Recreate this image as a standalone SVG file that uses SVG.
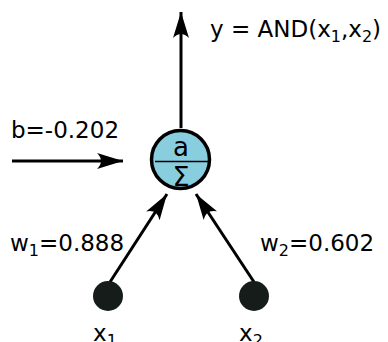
<svg xmlns="http://www.w3.org/2000/svg" width="388" height="342" viewBox="0 0 388 342">
  <style>
    .lbl { font-family: "DejaVu Sans", sans-serif; font-size: 23px; fill: #000; }
    .sub { font-size: 16px; }
    .edge { stroke: #000; stroke-width: 3; fill: none; marker-end: url(#head); }
    .input { fill: #151c1a; }
    .neuron { fill: #89cedf; stroke: #000; stroke-width: 3.5; }
  </style>
  <defs>
    <marker id="head" markerUnits="userSpaceOnUse" markerWidth="32" markerHeight="22" viewBox="-28 -11 30 22" refX="0" refY="0" orient="auto">
      <path d="M0,0 L-26,-8 Q-18,0 -26,8 Z" fill="#000"/>
    </marker>
  </defs>

  <!-- connectors -->
  <g id="connectors">
    <line class="edge" x1="181" y1="128" x2="181" y2="12"/>
    <line class="edge" x1="12" y1="161" x2="123" y2="161"/>
    <line class="edge" x1="110" y1="282" x2="167" y2="194"/>
    <line class="edge" x1="254" y1="282" x2="196" y2="194"/>
  </g>

  <!-- summing neuron -->
  <g id="neuron">
    <circle class="neuron" cx="180.5" cy="159.5" r="29"/>
    <line x1="155" y1="161.5" x2="208" y2="161.5" stroke="#000" stroke-width="1.5"/>
    <text class="lbl" x="181" y="156" text-anchor="middle" style="font-size:26px">a</text>
    <text class="lbl" x="181" y="186" text-anchor="middle" style="font-size:27px">Σ</text>
  </g>

  <!-- inputs -->
  <g id="input-x1">
    <circle class="input" cx="108" cy="296" r="15"/>
    <text class="lbl" x="93" y="341">x<tspan class="sub" dy="5">1</tspan></text>
  </g>
  <g id="input-x2">
    <circle class="input" cx="254" cy="296" r="15"/>
    <text class="lbl" x="239" y="341">x<tspan class="sub" dy="5">2</tspan></text>
  </g>

  <!-- labels -->
  <g id="output-label">
    <text class="lbl" x="210" y="37">y = AND(x<tspan class="sub" dy="5">1</tspan><tspan dy="-5">,x</tspan><tspan class="sub" dy="5">2</tspan><tspan dy="-5">)</tspan></text>
  </g>
  <g id="bias-label">
    <text class="lbl" x="11" y="138">b=-0.202</text>
  </g>
  <g id="weight-w1">
    <text class="lbl" x="10" y="251">w<tspan class="sub" dy="5">1</tspan><tspan dy="-5">=0.888</tspan></text>
  </g>
  <g id="weight-w2">
    <text class="lbl" x="260" y="251">w<tspan class="sub" dy="5">2</tspan><tspan dy="-5">=0.602</tspan></text>
  </g>
</svg>
